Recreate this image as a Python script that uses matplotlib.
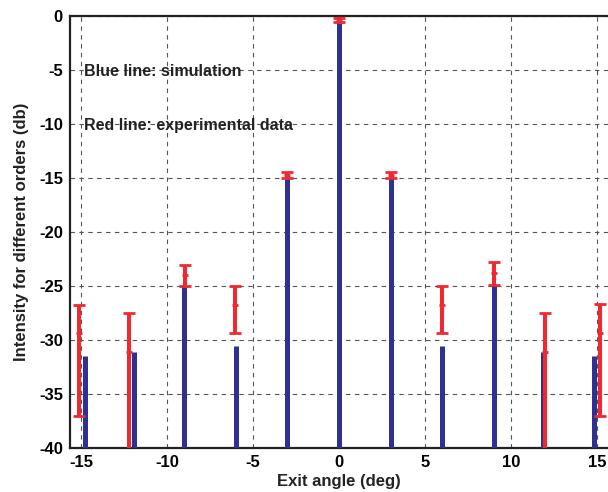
import numpy as np
import matplotlib.pyplot as plt

plt.rcParams["font.family"] = ["Liberation Sans", "DejaVu Sans"]
plt.rcParams["axes.unicode_minus"] = False

BLUE = "#2e3192"
RED = "#ee2a30"

# simulation (blue stems from the bottom of the axis)
sim_angle = [-14.75, -11.9, -9.0, -6.0, -3.0, 0.0, 3.0, 6.0, 9.0, 11.85, 14.85]
sim_db = [-31.5, -31.1, -24.9, -30.5, -14.7, 0.0, -14.7, -30.5, -24.9, -31.1, -31.5]

# experiment (red error bars)
exp_angle = [-15.1, -12.2, -8.95, -6.05, -3.0, 0.0, 3.0, 6.0, 9.0, 12.0, 15.2]
exp_db = [-29.3, -31.1, -24.0, -26.7, -14.7, -0.35, -14.7, -26.7, -23.8, -31.1, -29.3]
exp_hi = [-26.7, -27.5, -23.0, -25.0, -14.45, -0.15, -14.45, -25.0, -22.8, -27.5, -26.6]
exp_lo = [-37.0, -42.0, -25.0, -29.3, -14.95, -0.55, -14.95, -29.3, -24.9, -42.0, -37.0]

fig = plt.figure(figsize=(6.08, 4.92), dpi=100)
ax = fig.add_axes([0.115, 0.089, 0.885, 0.878])

ax.vlines(sim_angle, -40, sim_db, color=BLUE, lw=3.6, zorder=3)

y = np.array(exp_db)
yerr = [y - np.array(exp_lo), np.array(exp_hi) - y]
ax.errorbar(exp_angle, exp_db, yerr=yerr, fmt="+", color=RED, ecolor=RED,
            elinewidth=2.9, capsize=4.5, capthick=2.9, ms=5, mew=2, zorder=4)

ax.set_xlim(-15.65, 15.65)
ax.set_ylim(-40, 0)
ax.set_xticks(np.arange(-15, 16, 5))
ax.set_yticks(np.arange(-40, 1, 5))
ax.grid(True, color="#555555", ls=(0, (4, 4)), lw=0.8)
ax.tick_params(direction="in", labelsize=12, width=1.2, length=0, pad=5)
for lab in ax.get_xticklabels() + ax.get_yticklabels():
    lab.set_fontweight("bold")
for sp in ax.spines.values():
    sp.set_linewidth(1.6)
    sp.set_color("#222222")
ax.spines["right"].set_visible(False)

ax.set_xlabel("Exit angle (deg)", fontsize=12, fontweight="bold", labelpad=3,
              color="#222222")
ax.set_ylabel("Intensity for different orders (db)", fontsize=12,
              fontweight="bold", color="#222222", labelpad=7)

ax.text(-14.85, -5.1, "Blue line: simulation", fontsize=11.5, fontweight="bold",
        va="center", color="#222222")
ax.text(-14.85, -10.1, "Red line: experimental data", fontsize=11.5,
        fontweight="bold", va="center", color="#222222")

fig.savefig("out.png", dpi=100)
